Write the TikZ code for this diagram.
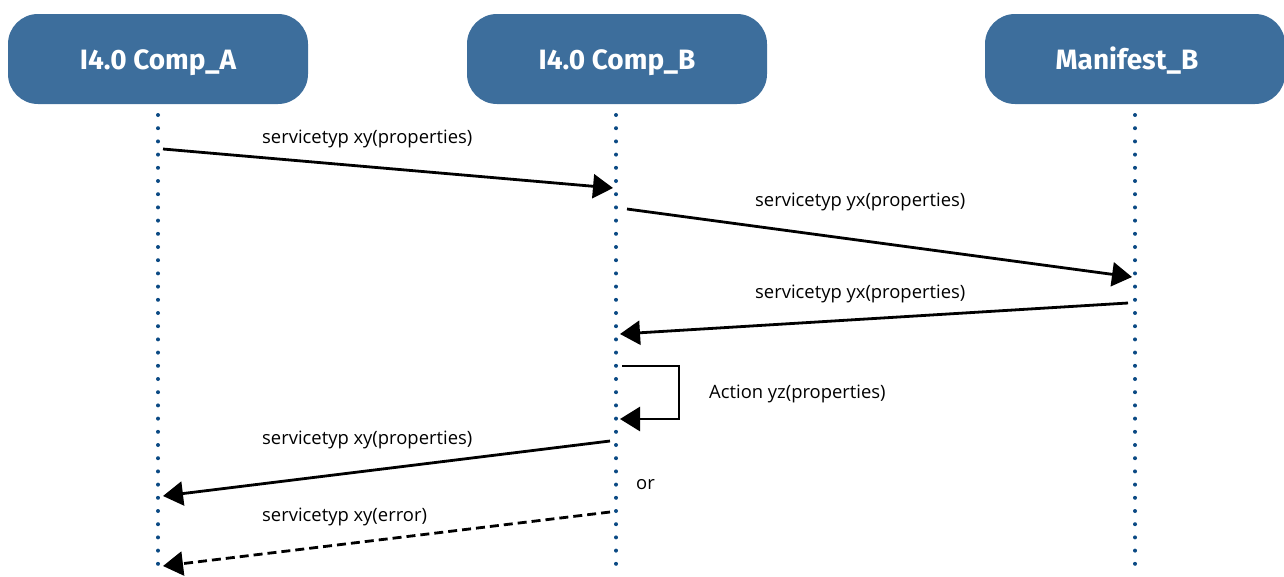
\documentclass[tikz,border=0pt]{standalone}
\usepackage{fontspec}
\setmainfont{Open Sans}
\newfontfamily\titlefont{Fira Sans}
\usetikzlibrary{arrows.meta}
\definecolor{boxblue}{HTML}{3D6E9C}
\definecolor{dotblue}{HTML}{0B4A84}
\tikzset{
  lifebox/.style={fill=boxblue, rounded corners=30pt, minimum width=300pt, minimum height=90pt, inner sep=0pt, text=white, text height=20pt, text depth=0pt, font=\titlefont\bfseries\fontsize{28}{32}\selectfont},
  lifeline/.style={dotblue, line width=4pt, line cap=round, dash pattern=on 0pt off 13.2pt},
  msg/.style={line width=2.8pt, -{Triangle[length=20pt,width=24pt]}},
  msgdash/.style={msg, dash pattern=on 9pt off 5pt},
  lbl/.style={font=\fontsize{18.4}{22}\selectfont, inner sep=0pt, anchor=west}
}
\begin{document}
\begin{tikzpicture}[x=1pt,y=-1pt]
\useasboundingbox (0,0) rectangle (1284,576);
\node[lifebox] (A) at (158,59) {I4.0 Comp\_A};
\node[lifebox] (B) at (617,59) {I4.0 Comp\_B};
\node[lifebox] (M) at (1135,59) {Manifest\_B\kern16pt};
\coordinate (Atop) at (158,115);
\coordinate (Abot) at (158,576);
\coordinate (Btop) at (616,115);
\coordinate (Bbot) at (616,576);
\coordinate (Mtop) at (1135,115);
\coordinate (Mbot) at (1135,576);
\draw[lifeline] (Atop) -- (Abot);
\draw[lifeline] (Btop) -- (Bbot);
\draw[lifeline] (Mtop) -- (Mbot);
% message 1
\coordinate (m1s) at (163,149);
\coordinate (m1e) at (613,188);
\draw[msg] (m1s) -- (m1e);
\node[lbl] (l1) at (262,139) {servicetyp xy(properties)};
% message 2
\coordinate (m2s) at (627,209);
\coordinate (m2e) at (1132,277);
\draw[msg] (m2s) -- (m2e);
\node[lbl] (l2) at (755,202) {servicetyp yx(properties)};
% message 3
\coordinate (m3s) at (1128,303);
\coordinate (m3e) at (620,334);
\draw[msg] (m3s) -- (m3e);
\node[lbl] (l3) at (755,294) {servicetyp yx(properties)};
% self action
\coordinate (m4s) at (622,366);
\coordinate (m4e) at (620,419);
\draw[msg, line cap=butt] (m4s) -- (679,366) -- (679,419) -- (m4e);
\node[lbl] (l4) at (709,394) {Action yz(properties)};
% message 5
\coordinate (m5s) at (610,441);
\coordinate (m5e) at (163,496);
\draw[msg] (m5s) -- (m5e);
\node[lbl] (l5) at (262,440) {servicetyp xy(properties)};
\node[lbl] (or) at (636,485) {or};
% message 6
\coordinate (m6s) at (610,512);
\coordinate (m6e) at (163,566);
\draw[msgdash] (m6s) -- (m6e);
\node[lbl] (l6) at (262,517) {servicetyp xy(error)};
\end{tikzpicture}
\end{document}
